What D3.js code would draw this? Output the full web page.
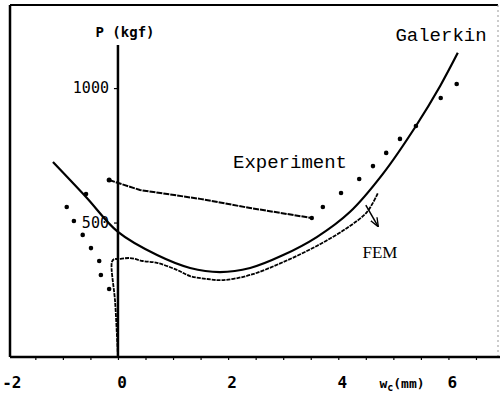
<!DOCTYPE html>
<html>
<head>
<meta charset="utf-8">
<script src="https://cdn.jsdelivr.net/npm/d3@7"></script>
<style>
  body { margin: 0; background: #fff; }
  svg { display: block; }
</style>
</head>
<body>
<svg width="500" height="400"></svg>
<script>
// values (w_c in mm, P in kgf)
var galerkinX = [-1.18, -0.58, 0, 0.71, 1.31, 1.85, 2.40, 3.0, 3.61, 4.21, 4.81, 5.41, 5.85, 6.17];
var galerkinY = [725, 595, 465, 379, 331, 316, 331, 379, 446, 539, 681, 859, 1008, 1131];

var femX = [0, -0.05, -0.11, -0.07, 0, 0.22, 0.45, 0.71, 1.07, 1.31, 1.62, 1.91, 2.40, 3.0, 3.61, 4.16, 4.52, 4.72];
var femY = [0, 201, 353, 364, 364, 368, 357, 350, 324, 301, 290, 286, 305, 353, 413, 480, 539, 610];

var expLineX = [-0.16, 0.40, 1.49, 2.40, 3.52];
var expLineY = [658, 621, 588, 554, 517];

var expDotX = [-0.16, -0.31, -0.34, -0.49, -0.64, -0.80, -0.93, -0.58,
               3.72, 4.05, 4.38, 4.63, 4.87, 5.12, 5.41, 5.86, 6.15];
var expDotY = [253, 305, 357, 405, 454, 506, 558, 606,
               558, 610, 662, 710, 759, 811, 859, 963, 1015];

var xTickLabels = [-2, 0, 2, 4, 6];
var yTickLabels = [500, 1000];

var svg = d3.select("svg"),
    width = +svg.attr("width"),
    height = +svg.attr("height");

var x = d3.scaleLinear().domain([-1.96, 6.9]).range([10, 498]);
var y = d3.scaleLinear().domain([0, 1309]).range([357, 5]);

function zip(xs, ys) {
  return xs.map(function(v, i) { return [v, ys[i]]; });
}

// frame
svg.append("line").attr("x1", 10).attr("x2", 498).attr("y1", 5).attr("y2", 5)
  .attr("stroke", "#000").attr("stroke-width", 2);
svg.append("line").attr("x1", 10).attr("x2", 10).attr("y1", 5).attr("y2", 357)
  .attr("stroke", "#000").attr("stroke-width", 2.5);
svg.append("line").attr("x1", 498).attr("x2", 498).attr("y1", 5).attr("y2", 357)
  .attr("stroke", "#999").attr("stroke-width", 1).attr("stroke-dasharray", "2,3");

// x axis with small ticks every 0.5
var xAxis = d3.axisBottom(x)
  .tickValues(d3.range(-1.5, 6.9, 0.5))
  .tickSize(3)
  .tickFormat("");
var gx = svg.append("g").attr("transform", "translate(0," + y(0) + ")").call(xAxis);
gx.select(".domain").attr("stroke-width", 2.5).attr("d", "M10,0H500");
gx.selectAll(".tick line").attr("stroke-width", 1.2);

svg.append("g").selectAll("text")
  .data(xTickLabels)
  .enter().append("text")
  .attr("x", function(d) { return x(d) + 4; })
  .attr("y", 388)
  .attr("text-anchor", "middle")
  .style("font", "bold 16px 'DejaVu Sans Mono'")
  .text(function(d) { return d < 0 ? "-" + Math.abs(d) : d; });

// y axis at w = 0
var yAxis = d3.axisLeft(y)
  .tickValues(yTickLabels)
  .tickSize(4)
  .tickFormat(function(d) { return d; });
var gy = svg.append("g").attr("transform", "translate(" + x(0) + ",0)").call(yAxis);
gy.select(".domain").attr("stroke-width", 2.5).attr("d", "M0,45V357");
gy.selectAll(".tick line").attr("stroke-width", 1.2);
gy.selectAll(".tick text")
  .attr("x", -9)
  .style("font", "15px 'DejaVu Sans Mono'")
  .attr("fill", "#000");

svg.append("text")
  .attr("x", 125).attr("y", 37)
  .attr("text-anchor", "middle")
  .style("font", "bold 14px 'DejaVu Sans Mono'")
  .text("P (kgf)");

var xl = svg.append("text")
  .attr("x", 402).attr("y", 388)
  .attr("text-anchor", "middle")
  .style("font", "bold 13px 'DejaVu Sans Mono'");
xl.append("tspan").text("w");
xl.append("tspan").attr("dy", 3).style("font-size", "10px").text("c");
xl.append("tspan").attr("dy", -3).text("(mm)");

var line = d3.line()
  .x(function(d) { return x(d[0]); })
  .y(function(d) { return y(d[1]); });

// Galerkin
svg.append("path")
  .datum(zip(galerkinX, galerkinY))
  .attr("fill", "none").attr("stroke", "#000").attr("stroke-width", 2.2)
  .attr("d", line.curve(d3.curveCatmullRom.alpha(0.5)));

// FEM
svg.append("path")
  .datum(zip(femX, femY))
  .attr("fill", "none").attr("stroke", "#000").attr("stroke-width", 1.8)
  .attr("stroke-dasharray", "4,1")
  .attr("d", line.curve(d3.curveCatmullRom.alpha(0.5)));

// Experiment line
svg.append("path")
  .datum(zip(expLineX, expLineY))
  .attr("fill", "none").attr("stroke", "#000").attr("stroke-width", 2)
  .attr("stroke-dasharray", "6,1")
  .attr("d", line.curve(d3.curveLinear));
svg.append("circle")
  .attr("cx", x(expLineX[0])).attr("cy", y(expLineY[0])).attr("r", 2.5);
svg.append("circle")
  .attr("cx", x(expLineX[expLineX.length - 1])).attr("cy", y(expLineY[expLineY.length - 1])).attr("r", 2.2);

// Experiment dots
svg.append("g").selectAll("circle")
  .data(zip(expDotX, expDotY))
  .enter().append("circle")
  .attr("cx", function(d) { return x(d[0]); })
  .attr("cy", function(d) { return y(d[1]); })
  .attr("r", 2.3)
  .attr("fill", "#000");

// FEM arrow
var arrowFrom = [4.5, 565], arrowTo = [4.72, 487];
svg.append("defs").append("marker")
  .attr("id", "ah").attr("viewBox", "0 0 10 10")
  .attr("refX", 9).attr("refY", 5)
  .attr("markerWidth", 6).attr("markerHeight", 6)
  .attr("orient", "auto")
  .append("path").attr("d", "M0,1L10,5L0,9").attr("fill", "none").attr("stroke", "#000").attr("stroke-width", 1.5);
svg.append("line")
  .attr("x1", x(arrowFrom[0])).attr("y1", y(arrowFrom[1]))
  .attr("x2", x(arrowTo[0])).attr("y2", y(arrowTo[1]))
  .attr("stroke", "#000").attr("stroke-width", 1.5)
  .attr("marker-end", "url(#ah)");

// labels
svg.append("text")
  .attr("x", 441).attr("y", 41)
  .attr("text-anchor", "middle")
  .style("font", "19px 'Liberation Mono'")
  .text("Galerkin");
svg.append("text")
  .attr("x", 290).attr("y", 168)
  .attr("text-anchor", "middle")
  .style("font", "19px 'Liberation Mono'")
  .text("Experiment");
svg.append("text")
  .attr("x", 380).attr("y", 258)
  .attr("text-anchor", "middle")
  .style("font", "17px 'Liberation Serif'")
  .text("FEM");
</script>
</body>
</html>
